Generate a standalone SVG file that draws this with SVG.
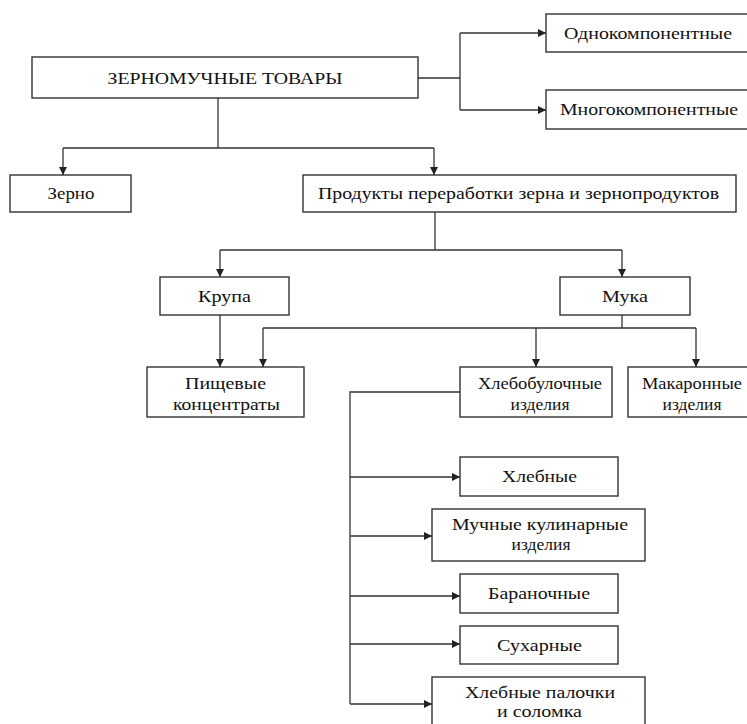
<svg xmlns="http://www.w3.org/2000/svg" width="747" height="724" viewBox="0 0 747 724">
<defs>
<marker id="ar" viewBox="0 0 10 10" refX="10" refY="5" markerWidth="8" markerHeight="8" markerUnits="userSpaceOnUse" orient="auto">
<path d="M0,0 L10,5 L0,10 z" fill="#222"/>
</marker>
<style>
.b{fill:#fff;stroke:#333;stroke-width:1.4}
.t{font-family:"Liberation Serif","Times New Roman",serif;font-size:17px;fill:#111;text-anchor:middle}
.c{fill:none;stroke:#333;stroke-width:1.3}
.a{marker-end:url(#ar)}
</style>
</defs>
<rect width="747" height="724" fill="#fff"/>
<g id="connectors">
<path class="c" d="M418,78 H460"/>
<path class="c" d="M460,33 V110"/>
<path class="c a" d="M460,33 H546"/>
<path class="c a" d="M460,110 H546"/>
<path class="c" d="M218,98 V148"/>
<path class="c" d="M63,148 H434"/>
<path class="c a" d="M63,148 V175"/>
<path class="c a" d="M434,148 V175"/>
<path class="c" d="M435,212 V250"/>
<path class="c" d="M220,250 H622"/>
<path class="c a" d="M220,250 V277"/>
<path class="c a" d="M622,250 V277"/>
<path class="c a" d="M220,315 V367"/>
<path class="c" d="M622,315 V328"/>
<path class="c" d="M263,328 H696"/>
<path class="c a" d="M263,328 V367"/>
<path class="c a" d="M536,328 V367"/>
<path class="c a" d="M696,328 V367"/>
<path class="c" d="M460,392 H350 V704"/>
<path class="c a" d="M350,477 H460"/>
<path class="c a" d="M350,536 H432"/>
<path class="c a" d="M350,596 H460"/>
<path class="c a" d="M350,644 H460"/>
<path class="c a" d="M350,704 H432"/>
</g>
<g id="root"><rect class="b" x="32" y="57" width="386" height="41"/><text class="t" x="225" y="84" textLength="235" lengthAdjust="spacingAndGlyphs">ЗЕРНОМУЧНЫЕ ТОВАРЫ</text></g>
<g id="odno"><rect class="b" x="546" y="14" width="205" height="38"/><text class="t" x="648" y="39" textLength="168" lengthAdjust="spacingAndGlyphs">Однокомпонентные</text></g>
<g id="mnogo"><rect class="b" x="546" y="90" width="205" height="39"/><text class="t" x="649" y="115" textLength="178" lengthAdjust="spacingAndGlyphs">Многокомпонентные</text></g>
<g id="zerno"><rect class="b" x="10" y="175" width="121" height="37"/><text class="t" x="71" y="199" textLength="47" lengthAdjust="spacingAndGlyphs">Зерно</text></g>
<g id="produkty"><rect class="b" x="303" y="175" width="433" height="37"/><text class="t" x="518.5" y="199" textLength="401" lengthAdjust="spacingAndGlyphs">Продукты переработки зерна и зернопродуктов</text></g>
<g id="krupa"><rect class="b" x="160" y="277" width="129" height="38"/><text class="t" x="224.5" y="302" textLength="53" lengthAdjust="spacingAndGlyphs">Крупа</text></g>
<g id="muka"><rect class="b" x="560" y="277" width="130" height="38"/><text class="t" x="625" y="302" textLength="46" lengthAdjust="spacingAndGlyphs">Мука</text></g>
<g id="pishch"><rect class="b" x="147" y="367" width="157" height="50"/><text class="t" x="225.5" y="389" textLength="81" lengthAdjust="spacingAndGlyphs">Пищевые</text><text class="t" x="226.5" y="410" textLength="107" lengthAdjust="spacingAndGlyphs">концентраты</text></g>
<g id="hlebobul"><rect class="b" x="460" y="367" width="152" height="50"/><text class="t" x="540" y="389" textLength="124" lengthAdjust="spacingAndGlyphs">Хлебобулочные</text><text class="t" x="540" y="410" textLength="59" lengthAdjust="spacingAndGlyphs">изделия</text></g>
<g id="makaron"><rect class="b" x="628" y="367" width="125" height="50"/><text class="t" x="692" y="389" textLength="100" lengthAdjust="spacingAndGlyphs">Макаронные</text><text class="t" x="692" y="410" textLength="59" lengthAdjust="spacingAndGlyphs">изделия</text></g>
<g id="hlebnye"><rect class="b" x="460" y="457" width="158" height="39"/><text class="t" x="539.5" y="482" textLength="75" lengthAdjust="spacingAndGlyphs">Хлебные</text></g>
<g id="muchnye"><rect class="b" x="432" y="509" width="213" height="52"/><text class="t" x="540" y="530" textLength="176" lengthAdjust="spacingAndGlyphs">Мучные кулинарные</text><text class="t" x="541" y="550" textLength="59" lengthAdjust="spacingAndGlyphs">изделия</text></g>
<g id="baranoch"><rect class="b" x="460" y="574" width="158" height="39"/><text class="t" x="539" y="599" textLength="102" lengthAdjust="spacingAndGlyphs">Бараночные</text></g>
<g id="suhar"><rect class="b" x="460" y="626" width="158" height="38"/><text class="t" x="539.5" y="651" textLength="85" lengthAdjust="spacingAndGlyphs">Сухарные</text></g>
<g id="palochki"><rect class="b" x="432" y="677" width="213" height="60"/><text class="t" x="540" y="698" textLength="150" lengthAdjust="spacingAndGlyphs">Хлебные палочки</text><text class="t" x="539.5" y="717" textLength="85" lengthAdjust="spacingAndGlyphs">и соломка</text></g>
</svg>
